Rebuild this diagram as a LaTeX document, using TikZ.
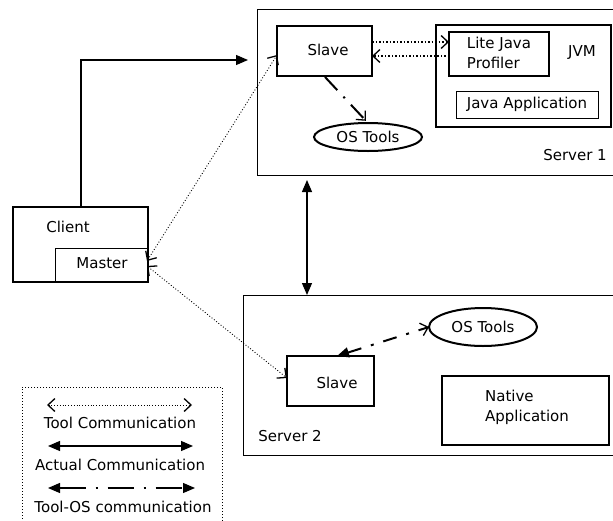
\documentclass[tikz,border=0pt]{standalone}
\usepackage{fontspec}
\setmainfont{DejaVu Sans}
\usetikzlibrary{arrows.meta,shapes.geometric}
\begin{document}
\begin{tikzpicture}[x=1pt,y=-1pt,
  font=\fontsize{15}{20}\selectfont,
  box/.style={draw, line width=1pt, inner sep=0pt, outer sep=0pt, anchor=north west},
  thickbox/.style={box, line width=2pt},
  txt/.style={inner sep=0pt, outer sep=0pt},
  oval/.style={draw, ellipse, line width=2pt, inner sep=0pt, outer sep=0pt},
  barb/.tip={Straight Barb[length=7pt,width=13pt,line width=1.3pt]},
  tri/.tip={Triangle[length=12pt,width=10pt]},
  toolcom/.style={dotted, line width=0.9pt, barb-barb},
  toolline/.style={line width=2.2pt, dash pattern=on 1.5pt off 2pt},
  actual/.style={line width=1.2pt, tri-tri},
  toolos/.style={line width=2pt, dash pattern=on 18pt off 9pt on 2pt off 9pt}
]
\useasboundingbox (0,0) rectangle (613,520);

% Server 1
\node[box, minimum width=370pt, minimum height=166pt] (server1) at (257,9) {};
\node[txt] (server1t) at (575,155) {Server 1};
\node[thickbox, minimum width=95pt, minimum height=50pt] (slave1) at (277,26) {};
\node[txt] (slave1t) at (328,50) {Slave};
\node[thickbox, minimum width=175pt, minimum height=102pt] (jvm) at (436,25) {};
\node[txt] (jvmt) at (582,53) {JVM};
\node[thickbox, minimum width=100pt, minimum height=44pt] (ljp) at (449,32) {};
\node[txt, align=left] (ljpt) at (499,53) {Lite Java\\Profiler};
\node[box, minimum width=142pt, minimum height=27pt] (japp) at (456,91) {};
\node[txt] (jappt) at (527,104) {Java Application};
\node[oval, minimum width=108pt, minimum height=28pt] (os1) at (368,137) {OS Tools};

% Server 2
\node[box, minimum width=390pt, minimum height=160pt] (server2) at (243,295) {};
\node[txt] (server2t) at (290,436) {Server 2};
\node[thickbox, minimum width=87pt, minimum height=50pt] (slave2) at (287,356) {};
\node[txt] (slave2t) at (337,383) {Slave};
\node[oval, minimum width=108pt, minimum height=38pt] (os2) at (483,327) {OS Tools};
\node[thickbox, minimum width=167pt, minimum height=69pt] (native) at (442,376) {};
\node[txt, align=left] (nativet) at (527,407) {Native\\Application};

% Client
\node[thickbox, minimum width=135pt, minimum height=75pt] (client) at (13,207) {};
\node[txt] (clientt) at (68,227) {Client};
\node[box, minimum width=92pt, minimum height=34pt] (master) at (55,248) {};
\node[txt] (mastert) at (102,263) {Master};

% Actual communication
\coordinate (cx) at (81,60);
\draw[line width=1.2pt, -tri, shorten >=9pt] (client.north -| cx) |- (server1.west |- cx);
\coordinate (vx) at (307,0);
\draw[actual, shorten <=5pt] (server1.south -| vx) -- (server2.north -| vx);

% Tool communication (client/master to slaves)
\draw[toolcom] ([yshift=4pt]master.east) -- ([yshift=-4pt]slave1.west);
\draw[toolcom] ([yshift=-1pt]master.east) -- ([yshift=3pt]slave2.west);

% Slave1 <-> Lite Java Profiler
\draw[toolline, -barb] ([yshift=9pt]slave1.east) -- ([yshift=12pt]ljp.west);
\draw[toolline, -barb] ([yshift=-2pt]ljp.west) -- ([yshift=-5pt]slave1.east);

% Tool-OS
\coordinate (s1o) at (325,77);
\draw[toolos, -barb, shorten >=3pt] (s1o) -- (os1.north);
\coordinate (s2o) at (337,356);
\draw[toolos, tri-barb, dash pattern=on 14pt off 10pt on 3pt off 10pt] (s2o) -- (os2.west);

% Legend
\node[box, dotted, line width=1pt, minimum width=200pt, minimum height=150pt] (legend) at (22,387) {};
\coordinate (l1a) at (47,405); \coordinate (l1b) at (192,405);
\draw[toolcom, line width=0.8pt] (l1a) -- (l1b);
\node[txt] (leg1) at (120,423) {Tool Communication};
\coordinate (l2a) at (48,446); \coordinate (l2b) at (193,446);
\draw[actual] (l2a) -- (l2b);
\node[txt] (leg2) at (120,465) {Actual Communication};
\coordinate (l3a) at (48,488); \coordinate (l3b) at (195,488);
\draw[line width=1.2pt, tri-tri, dash pattern=on 26pt off 10pt on 2pt off 10pt on 26pt off 10pt on 2pt off 10pt] (l3a) -- (l3b);
\node[txt] (leg3) at (123,507) {Tool-OS communication};
\end{tikzpicture}
\end{document}
